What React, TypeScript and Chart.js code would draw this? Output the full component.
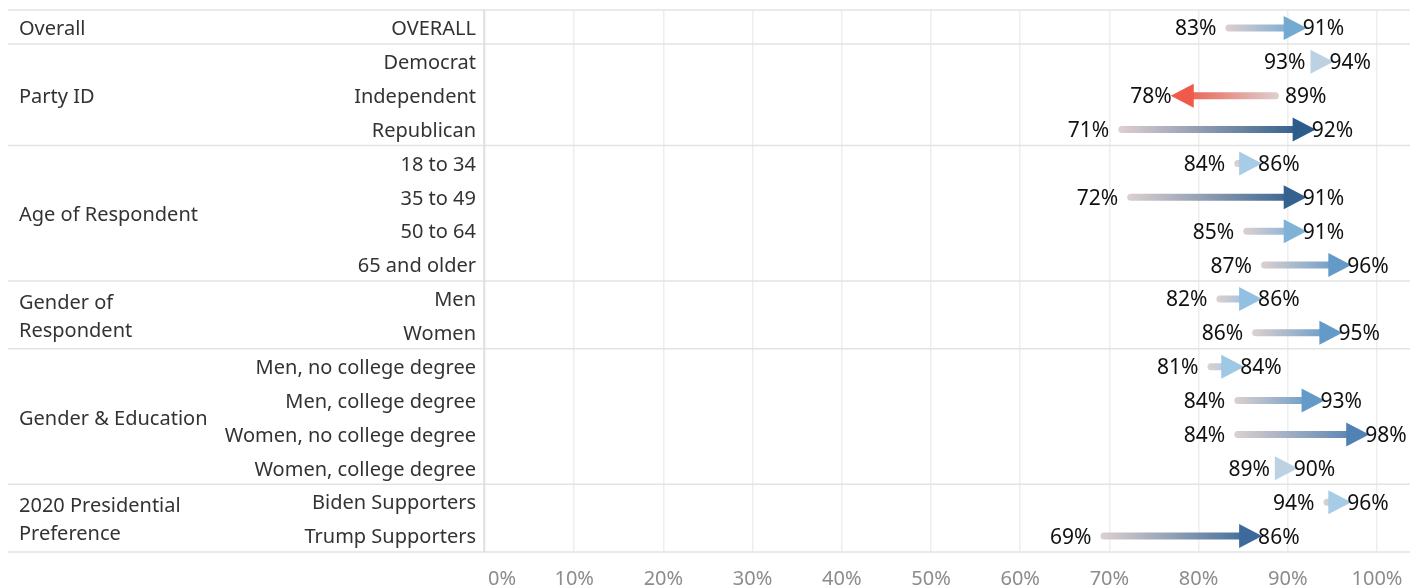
import React, { useEffect, useRef } from "react";
import { Chart, registerables } from "chart.js";

Chart.register(...registerables);

const GROUPS = ["Overall", "Party ID", "Age of Respondent", "Gender of\nRespondent", "Gender & Education", "2020 Presidential\nPreference"];
const GROUP_SIZES = [1, 3, 4, 2, 4, 2];
const SUBGROUPS = [
  "OVERALL",
  "Democrat", "Independent", "Republican",
  "18 to 34", "35 to 49", "50 to 64", "65 and older",
  "Men", "Women",
  "Men, no college degree", "Men, college degree", "Women, no college degree", "Women, college degree",
  "Biden Supporters", "Trump Supporters",
];
const BEFORE = [83, 93, 89, 71, 84, 72, 85, 87, 82, 86, 81, 84, 84, 89, 94, 69];
const AFTER = [91, 94, 78, 92, 86, 91, 91, 96, 86, 95, 84, 93, 98, 90, 96, 86];
const X_TICKS = [0, 10, 20, 30, 40, 50, 60, 70, 80, 90, 100];

const FONT = '"Noto Sans", "Open Sans", sans-serif';
const START_COLOR = "#ddd0cf";
const DOWN_COLOR = "#ef5a4b";
const UP_STOPS: [number, number[]][] = [
  [1, [188, 210, 227]],
  [2, [167, 204, 231]],
  [3, [159, 200, 230]],
  [4, [147, 192, 226]],
  [6, [128, 178, 216]],
  [8, [116, 169, 210]],
  [9, [100, 154, 200]],
  [14, [82, 130, 180]],
  [17, [61, 106, 154]],
  [19, [53, 97, 143]],
  [21, [45, 91, 139]],
];

function upColor(d: number): string {
  if (d <= UP_STOPS[0][0]) return `rgb(${UP_STOPS[0][1].join(",")})`;
  for (let i = 1; i < UP_STOPS.length; i++) {
    const [d1, c1] = UP_STOPS[i];
    const [d0, c0] = UP_STOPS[i - 1];
    if (d <= d1) {
      const t = (d - d0) / (d1 - d0);
      const c = c0.map((v, k) => Math.round(v + (c1[k] - v) * t));
      return `rgb(${c.join(",")})`;
    }
  }
  return `rgb(${UP_STOPS[UP_STOPS.length - 1][1].join(",")})`;
}

const arrowPlugin = {
  id: "arrowPlugin",
  beforeDatasetsDraw(chart: any) {
    const { ctx, chartArea, scales } = chart;
    const y = scales.y;
    const rowH = (chartArea.bottom - chartArea.top) / SUBGROUPS.length;
    ctx.save();
    ctx.strokeStyle = "#e3e3e3";
    ctx.lineWidth = 1.5;
    let idx = 0;
    const bounds = [0];
    GROUP_SIZES.forEach((n) => {
      idx += n;
      bounds.push(idx);
    });
    bounds.forEach((b) => {
      const py = b < SUBGROUPS.length ? y.getPixelForValue(b) - rowH / 2 : y.getPixelForValue(b - 1) + rowH / 2;
      ctx.beginPath();
      ctx.moveTo(8, py);
      ctx.lineTo(chart.width, py);
      ctx.stroke();
    });
    ctx.strokeStyle = "#dcdcdc";
    ctx.beginPath();
    ctx.moveTo(chartArea.left - 1, chartArea.top);
    ctx.lineTo(chartArea.left - 1, chartArea.bottom);
    ctx.stroke();
    ctx.restore();
  },
  afterDatasetsDraw(chart: any) {
    const { ctx, chartArea, scales } = chart;
    const x = scales.x;
    const y = scales.y;
    ctx.save();

    // arrows
    for (let i = 0; i < SUBGROUPS.length; i++) {
      const b = BEFORE[i];
      const a = AFTER[i];
      const x0 = x.getPixelForValue(b);
      const x1 = x.getPixelForValue(a);
      const py = y.getPixelForValue(i) + 1;
      const dir = a >= b ? 1 : -1;
      const endColor = dir > 0 ? upColor(a - b) : DOWN_COLOR;
      const g = ctx.createLinearGradient(x0, 0, x1, 0);
      g.addColorStop(0, START_COLOR);
      g.addColorStop(1, endColor);
      ctx.strokeStyle = g;
      ctx.lineWidth = 7;
      ctx.lineCap = "round";
      ctx.beginPath();
      ctx.moveTo(x0 + dir * 3.5, py);
      ctx.lineTo(x1 - dir * 6, py);
      ctx.stroke();
      // head
      ctx.fillStyle = endColor;
      ctx.beginPath();
      ctx.moveTo(x1 - dir * 13, py - 12);
      ctx.lineTo(x1 + dir * 10, py);
      ctx.lineTo(x1 - dir * 13, py + 12);
      ctx.closePath();
      ctx.fill();

      // value labels
      ctx.font = `21px ${FONT}`;
      ctx.fillStyle = "#111";
      ctx.textBaseline = "middle";
      const lo = Math.min(x0, x1);
      const hi = Math.max(x0, x1);
      const loTxt = (dir > 0 ? b : a) + "%";
      const hiTxt = (dir > 0 ? a : b) + "%";
      ctx.textAlign = "right";
      ctx.fillText(loTxt, lo - 9, py + 1.5);
      ctx.textAlign = "left";
      ctx.fillText(hiTxt, hi + 6, py + 1.5);
    }

    // subgroup labels
    ctx.font = `20px ${FONT}`;
    ctx.fillStyle = "#333";
    ctx.textBaseline = "middle";
    ctx.textAlign = "right";
    SUBGROUPS.forEach((s, i) => {
      ctx.fillText(s, chartArea.left - 9, y.getPixelForValue(i) + 2.5);
    });

    // group labels
    ctx.textAlign = "left";
    let start = 0;
    GROUPS.forEach((gname, gi) => {
      const n = GROUP_SIZES[gi];
      const cy = (y.getPixelForValue(start) + y.getPixelForValue(start + n - 1)) / 2;
      const lines = gname.split("\n");
      const lh = 28;
      lines.forEach((ln, li) => {
        ctx.fillText(ln, 19, cy + (li - (lines.length - 1) / 2) * lh + 2.5);
      });
      start += n;
    });

    // x tick labels
    ctx.fillStyle = "#8c8c8c";
    ctx.font = `20px ${FONT}`;
    X_TICKS.forEach((t, i) => {
      const px = x.getPixelForValue(t);
      if (i === 0) {
        ctx.textAlign = "left";
        ctx.fillText(t + "%", px + 3, chartArea.bottom + 27);
      } else {
        ctx.textAlign = "center";
        ctx.fillText(t + "%", px, chartArea.bottom + 27);
      }
    });
    ctx.restore();
  },
};

export default function App() {
  const ref = useRef<HTMLCanvasElement | null>(null);
  useEffect(() => {
    document.body.style.margin = "0";
    if (!ref.current) return;
    const chart = new Chart(ref.current, {
      type: "bar",
      data: {
        labels: SUBGROUPS,
        datasets: [
          {
            data: BEFORE.map((b, i) => [b, AFTER[i]]) as any,
            backgroundColor: "rgba(0,0,0,0)",
            borderWidth: 0,
          },
        ],
      },
      options: {
        indexAxis: "y",
        animation: false,
        responsive: false,
        events: [],
        layout: { padding: { left: 485, right: 0, top: 10, bottom: 34 } },
        plugins: { legend: { display: false }, tooltip: { enabled: false } },
        scales: {
          y: { type: "category", display: false, offset: true },
          x: {
            type: "linear",
            min: 0,
            max: 103.7,
            display: true,
            border: { display: false },
            grid: { color: "#eeeeee", lineWidth: 1.5, drawTicks: false },
            ticks: { display: false, stepSize: 10, includeBounds: false },
            afterBuildTicks: (scale: any) => {
              scale.ticks = X_TICKS.map((v) => ({ value: v }));
            },
          },
        },
      },
      plugins: [arrowPlugin],
    });
    return () => chart.destroy();
  }, []);
  return (
    <div style={{ width: 1410, height: 586 }}>
      <canvas ref={ref} width={1410} height={586} style={{ display: "block" }} />
    </div>
  );
}
